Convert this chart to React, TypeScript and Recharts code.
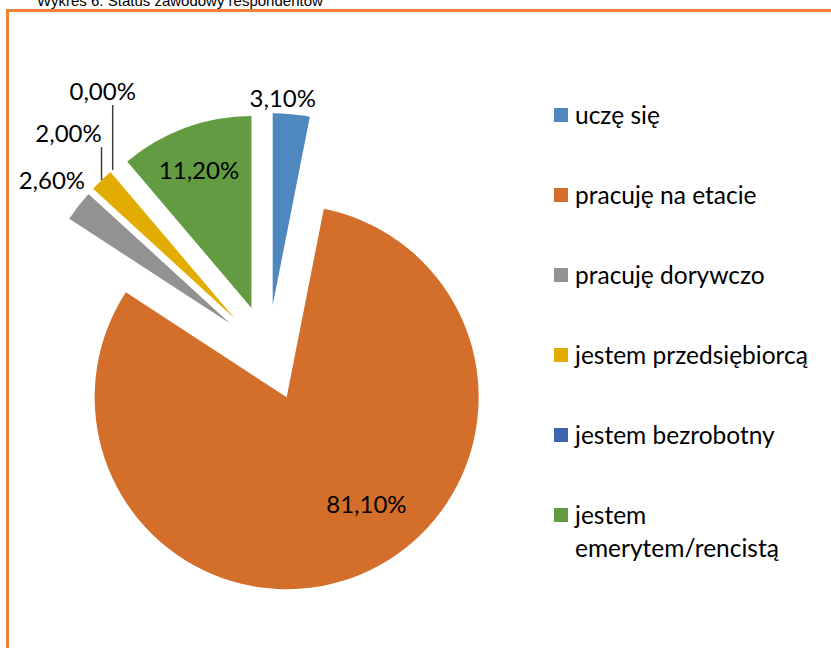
import { Legend, Pie, PieChart, Sector, Tooltip } from "recharts";

const categories = [
  "uczę się",
  "pracuję na etacie",
  "pracuję dorywczo",
  "jestem przedsiębiorcą",
  "jestem bezrobotny",
  "jestem emerytem/rencistą",
];
const shares = [3.1, 81.1, 2.6, 2.0, 0.0, 11.2];
const colors = ["#4F88BE", "#D46E2B", "#929292", "#E2AC00", "#3E64AD", "#629B41"];

const data = categories.map((name, i) => ({ name, value: shares[i], fill: colors[i] }));

const FONT = "Lato, 'Open Sans', sans-serif";
const RADIUS = 192;
const EXPLODE = 48;
const RAD = Math.PI / 180;

// where each value label sits (Excel's best-fit placement)
const labelLayout = [
  { kind: "radial", r: 208, turn: 2.8 },
  { kind: "radial", r: 133, turn: 14 },
  { kind: "radial", r: 229, turn: -1.1 },
  { kind: "leader", up: 33, dx: -33 },
  { kind: "leader", up: 65, dx: -10 },
  { kind: "radial", r: 148, turn: 0.6 },
];

const fmt = (v: number) => v.toFixed(2).replace(".", ",") + "%";

function apex(cx: number, cy: number, midAngle: number) {
  return {
    x: cx + EXPLODE * Math.cos(-midAngle * RAD),
    y: cy + EXPLODE * Math.sin(-midAngle * RAD),
  };
}

function ExplodedSector(props: any) {
  const p = apex(props.cx, props.cy, props.midAngle);
  return <Sector {...props} cx={p.x} cy={p.y} />;
}

function ValueLabel(props: any) {
  const { cx, cy, midAngle, outerRadius, index, value } = props;
  const cfg: any = labelLayout[index];
  const a = apex(cx, cy, midAngle);
  const textProps = {
    textAnchor: "middle" as const,
    dominantBaseline: "central" as const,
    fontFamily: FONT,
    fontSize: 24,
    fill: "#000",
  };
  if (cfg.kind === "leader") {
    const ox = a.x + outerRadius * Math.cos(-midAngle * RAD);
    const oy = a.y + outerRadius * Math.sin(-midAngle * RAD);
    return (
      <g>
        <line x1={ox} y1={oy} x2={ox} y2={oy - cfg.up} stroke="#404040" strokeWidth={1.5} />
        <text x={ox + cfg.dx} y={oy - cfg.up - 15} {...textProps}>
          {fmt(value)}
        </text>
      </g>
    );
  }
  const ang = (midAngle + cfg.turn) * RAD;
  return (
    <text x={a.x + cfg.r * Math.cos(-ang)} y={a.y + cfg.r * Math.sin(-ang)} {...textProps}>
      {fmt(value)}
    </text>
  );
}

function LegendList() {
  return (
    <div style={{ fontFamily: FONT, fontSize: 24.5, lineHeight: "33px", color: "#000" }}>
      {categories.map((name, i) => (
        <div key={name} style={{ display: "flex", alignItems: "flex-start", height: 80.2 }}>
          <span
            style={{
              width: 14,
              height: 14,
              marginTop: 10,
              marginRight: 7,
              flex: "0 0 14px",
              background: colors[i],
            }}
          />
          <span style={{ width: 250 }}>{name}</span>
        </div>
      ))}
    </div>
  );
}

export default function App() {
  return (
    <div style={{ position: "absolute", left: 0, top: 0, width: 831, height: 648, overflow: "hidden", background: "#fff" }}>
      <div
        style={{
          position: "absolute",
          left: 37,
          top: -7.5,
          fontFamily: "'Liberation Sans', Arial, sans-serif",
          fontSize: 15,
          lineHeight: "15px",
          whiteSpace: "nowrap",
          color: "#000",
        }}
      >
        Wykres 6. Status zawodowy respondentów
      </div>
      <div
        style={{
          position: "absolute",
          left: 6,
          top: 9,
          width: 825,
          height: 639,
          boxSizing: "border-box",
          borderLeft: "3px solid #EF8234",
          borderTop: "3px solid #EF8234",
        }}
      />
      <div style={{ position: "absolute", left: 0, top: 0 }}>
        <PieChart width={831} height={648} margin={{ top: 0, right: 0, bottom: 0, left: 0 }}>
          <Pie
            data={data}
            dataKey="value"
            nameKey="name"
            cx={268}
            cy={353}
            outerRadius={RADIUS}
            startAngle={90}
            endAngle={-270}
            stroke="none"
            shape={ExplodedSector}
            activeShape={ExplodedSector}
            inactiveShape={ExplodedSector}
            label={ValueLabel}
            labelLine={false}
            isAnimationActive={false}
          />
          <Tooltip defaultIndex={0} content={() => null} cursor={false} />
          <Legend
            layout="vertical"
            align="right"
            verticalAlign="top"
            content={LegendList}
            wrapperStyle={{ position: "absolute", left: 554, top: 97.5, width: 275 }}
          />
        </PieChart>
      </div>
    </div>
  );
}
